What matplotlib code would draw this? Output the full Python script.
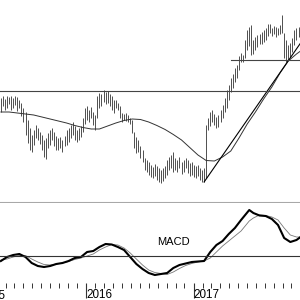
import matplotlib
matplotlib.use('Agg')
import matplotlib.pyplot as plt
import matplotlib.dates as mdates
import pandas as pd

plt.rcParams['font.family'] = ['Liberation Sans', 'DejaVu Sans']

# weekly bars, Mar 2015 - Dec 2017 (price in arbitrary units)
weeks = pd.date_range('2015-03-16', periods=147, freq='7D')

highs = [102, 104, 101, 104, 103, 104, 102, 104, 103, 100,
         97, 92, 88, 80, 72, 65, 70, 75, 72, 68,
         65, 60, 62, 67, 70, 72, 68, 64, 62, 63,
         60, 64, 70, 72, 75, 78, 74, 70, 72, 74,
         82, 92, 94, 90, 93, 88, 85, 104, 107, 106,
         110, 108, 109, 106, 104, 100, 100, 97, 94, 87,
         86, 87, 85, 82, 80, 68, 63, 60, 54, 50,
         42, 40, 38, 35, 33, 36, 34, 32, 30, 32,
         34, 40, 43, 45, 48, 42, 40, 43, 38, 40,
         42, 40, 37, 38, 35, 34, 35, 32, 30, 32,
         75, 82, 88, 90, 86, 83, 85, 90, 95, 102,
         110, 115, 122, 126, 132, 135, 144, 147, 145, 160,
         170, 173, 175, 160, 163, 165, 166, 168, 170, 172,
         176, 176, 172, 174, 173, 172, 175, 185, 167, 160,
         155, 157, 162, 170, 172, 173, 172]
lows = [88, 94, 90, 92, 96, 90, 92, 95, 89, 92,
        84, 78, 65, 57, 50, 48, 55, 62, 60, 56,
        50, 43, 41, 52, 55, 60, 54, 50, 50, 52,
        48, 54, 55, 58, 62, 65, 60, 58, 60, 63,
        68, 76, 80, 78, 82, 75, 70, 82, 92, 94,
        98, 96, 97, 94, 90, 87, 92, 90, 82, 78,
        80, 79, 78, 76, 67, 52, 47, 48, 42, 38,
        30, 28, 25, 23, 22, 24, 20, 18, 17, 19,
        22, 25, 30, 32, 28, 30, 28, 32, 26, 28,
        32, 27, 24, 25, 23, 22, 24, 20, 18, 18,
        22, 70, 74, 78, 75, 72, 73, 78, 82, 88,
        92, 100, 108, 112, 118, 122, 130, 138, 138, 142,
        150, 154, 145, 146, 150, 153, 156, 156, 158, 160,
        164, 167, 164, 166, 163, 165, 166, 167, 142, 138,
        140, 143, 148, 155, 160, 163, 164]

# moving average (week index, value)
ma_idx = [0, 4, 8, 12, 16, 20, 24, 28, 32, 36, 40, 44, 48, 52, 56, 60, 64, 68, 72,
          76, 80, 84, 88, 92, 96, 100, 104, 108, 112, 116, 120, 124, 128, 132,
          136, 140, 144, 146]
ma_vals = [88, 88, 87, 86, 85, 83, 81, 79, 77, 74.5, 72.5, 71, 71, 74, 77, 79.5, 81,
           80.5, 78, 74.5, 70.5, 65.5, 60, 52.5, 45, 39.5, 39, 43, 49, 62, 76, 88,
           101, 113, 127, 139, 146, 149]

# trend line from the 2016 low, and horizontal levels
trend_idx = [99, 146]
trend_vals = [18, 157]
level_low = 109
level_high = 140.5
level_high_start = 112

# MACD and signal (week index, value)
macd_idx = [0, 3, 6, 9, 12, 15, 18, 21, 24, 27, 30, 33, 36, 39, 42, 45, 48, 51, 54,
            57, 60, 63, 66, 69, 72, 75, 78, 81, 84, 87, 90, 93, 96, 99, 102, 105,
            108, 111, 114, 117, 121, 123, 126, 129, 132, 135, 138, 141, 144, 146]
macd_vals = [-5, -1, 1, 2, -1, -7, -10, -11, -10, -8, -7, -5, -2, -1, 4, 5, 9, 12,
             11.5, 9, 6, -1, -8, -13, -17, -19, -18, -17, -12, -9, -7.5, -6, -5.5,
             -5, 4, 11, 15, 22, 28, 36, 46, 43, 40.5, 40, 37, 31, 18, 14, 16, 19]
signal_vals = [-4, -3, -1, 0.5, 0.5, -3, -6, -8.5, -9, -8, -7, -5.5, -3.5, -2, 0, 2,
               6, 9, 11.5, 11, 8, 3, -3, -9, -14, -16.5, -17.5, -18.5, -16, -12.5,
               -9.5, -7.5, -6, -5, -2, 4, 10, 15, 20, 25, 35, 38, 41, 40.5, 39, 36,
               28, 21, 19, 19]

fig = plt.figure(figsize=(3, 3), dpi=100)
xmin, xmax = pd.Timestamp('2015-03-13'), pd.Timestamp('2017-12-30')

# price panel
ax = fig.add_axes([0, 97.5 / 300, 1, 202.5 / 300])
ax.vlines(weeks, lows, highs, color='#333333', lw=0.6)
ax.plot(weeks[ma_idx], ma_vals, color='#333333', lw=0.7)
ax.plot(weeks[trend_idx], trend_vals, color='black', lw=0.8)
ax.axhline(level_low, color='#444444', lw=0.8)
ax.plot([weeks[level_high_start], xmax], [level_high, level_high], color='#444444', lw=0.8)
ax.set_xlim(xmin, xmax)
ax.set_ylim(-2.5, 200)
for s in ['top', 'left', 'right']:
    ax.spines[s].set_visible(False)
ax.spines['bottom'].set_color('#a8a8a8')
ax.spines['bottom'].set_linewidth(1.5)
ax.set_xticks([])
ax.set_yticks([])

# MACD panel
ax2 = fig.add_axes([0, 17 / 300, 1, 80 / 300])
ax2.plot(weeks[macd_idx], signal_vals, color='#777777', lw=0.6)
ax2.plot(weeks[macd_idx], macd_vals, color='black', lw=1.5)
ax2.axhline(0, color='#333333', lw=0.8)
ax2.text(0.577, 0.51, 'MACD', transform=ax2.transAxes, ha='center', va='center', fontsize=8)
ax2.set_xlim(xmin, xmax)
ax2.set_ylim(-27, 53)
for s in ax2.spines.values():
    s.set_visible(False)
ax2.set_yticks([])
ax2.xaxis.set_major_locator(mdates.YearLocator())
ax2.xaxis.set_minor_locator(mdates.MonthLocator())
ax2.xaxis.set_major_formatter(mdates.DateFormatter('%Y'))
ax2.tick_params(axis='x', which='major', length=11, width=0.8, pad=-7, labelsize=8.4, color='#333333')
ax2.tick_params(axis='x', which='minor', length=3.6, width=0.7, color='#333333')
for lab in ax2.get_xticklabels():
    lab.set_ha('left')
# the 2015 label sits left of the visible range, only its last digit shows
ax2.text(pd.Timestamp('2015-01-01'), -0.088, '2015', transform=ax2.get_xaxis_transform(),
         ha='left', va='top', fontsize=8.4, clip_on=False)

fig.savefig('out.png', dpi=100)
